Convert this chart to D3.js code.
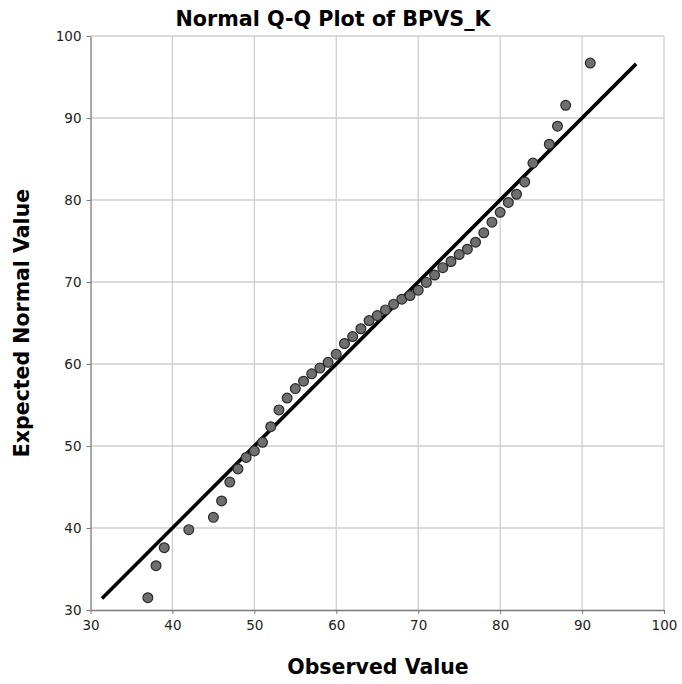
<!DOCTYPE html>
<html><head><meta charset="utf-8">
<script src="https://cdn.jsdelivr.net/npm/d3@7/dist/d3.min.js"></script>
<style>
html,body{margin:0;padding:0;background:#fff;}
svg text{font-family:"DejaVu Sans",sans-serif;}
</style></head>
<body>
<script>
// Data
const observed = [37,38,39,42,45,46,47,48,49,50,51,52,53,54,55,56,57,58,59,60,61,62,63,64,65,66,67,68,69,70,71,72,73,74,75,76,77,78,79,80,81,82,83,84,86,87,88,91];
const expected = [31.5,35.4,37.6,39.8,41.3,43.3,45.6,47.2,48.6,49.4,50.45,52.35,54.4,55.85,57.0,57.9,58.8,59.5,60.2,61.2,62.5,63.35,64.3,65.3,65.9,66.6,67.3,67.9,68.35,69.0,69.95,70.85,71.75,72.5,73.35,74.0,74.85,76.0,77.3,78.5,79.7,80.7,82.2,84.5,86.8,89.0,91.55,96.7];
const refLine = [31.4, 96.6];
const xTicks = [30,40,50,60,70,80,90,100];
const yTicks = [30,40,50,60,70,80,90,100];
const titleText = "Normal Q-Q Plot of BPVS_K";
const xLabel = "Observed Value";
const yLabel = "Expected Normal Value";

const W = 682, H = 684;
const m = {left: 90.5, right: 664, top: 36, bottom: 610};
const svg = d3.select("body").append("svg").attr("width", W).attr("height", H);

const x = d3.scaleLinear().domain([30,100]).range([m.left, m.right]);
const y = d3.scaleLinear().domain([30,100]).range([m.bottom, m.top]);

// grid
const grid = svg.append("g");
grid.selectAll("line.v").data(xTicks.slice(1)).join("line")
  .attr("x1", d=>x(d)).attr("x2", d=>x(d)).attr("y1", y(30)).attr("y2", y(100))
  .attr("stroke", "#cfcfcf").attr("stroke-width", 1.3);
grid.selectAll("line.h").data(yTicks.slice(1)).join("line")
  .attr("y1", d=>y(d)).attr("y2", d=>y(d)).attr("x1", x(30)).attr("x2", x(100))
  .attr("stroke", "#cfcfcf").attr("stroke-width", 1.3);

// axes
const xAxis = svg.append("g").attr("transform", `translate(0,${y(30)})`)
  .call(d3.axisBottom(x).tickValues(xTicks).tickSize(4).tickSizeOuter(0).tickPadding(6));
const yAxis = svg.append("g").attr("transform", `translate(${x(30)},0)`)
  .call(d3.axisLeft(y).tickValues(yTicks).tickSize(4).tickSizeOuter(0).tickPadding(5));
[xAxis, yAxis].forEach(a => {
  a.select(".domain").attr("stroke", "#7a7a7a").attr("stroke-width", 1.3);
  a.selectAll(".tick line").attr("stroke", "#7a7a7a");
  a.selectAll(".tick text").attr("font-family", "DejaVu Sans, sans-serif")
    .attr("font-size", 13.5).attr("fill", "#222");
});

// reference line
svg.append("line")
  .attr("x1", x(refLine[0])).attr("y1", y(refLine[0]))
  .attr("x2", x(refLine[1])).attr("y2", y(refLine[1]))
  .attr("stroke", "#000").attr("stroke-width", 3.6);

// points
svg.append("g").selectAll("circle").data(observed.map((o,i)=>[o, expected[i]])).join("circle")
  .attr("cx", d=>x(d[0])).attr("cy", d=>y(d[1])).attr("r", 4.9)
  .attr("fill", "#6f6f6f").attr("stroke", "#2a2a2a").attr("stroke-width", 1.2);

// titles
svg.append("text").attr("x", 333).attr("y", 26).attr("text-anchor", "middle")
  .attr("font-size", 20.7).attr("font-weight", "bold").attr("fill", "#000").text(titleText);
svg.append("text").attr("x", 378).attr("y", 674).attr("text-anchor", "middle")
  .attr("font-size", 20.5).attr("font-weight", "bold").attr("fill", "#000").text(xLabel);
svg.append("text").attr("transform", `translate(29,323) rotate(-90)`).attr("text-anchor", "middle")
  .attr("font-size", 20.5).attr("font-weight", "bold").attr("fill", "#000").text(yLabel);
</script>
</body></html>
